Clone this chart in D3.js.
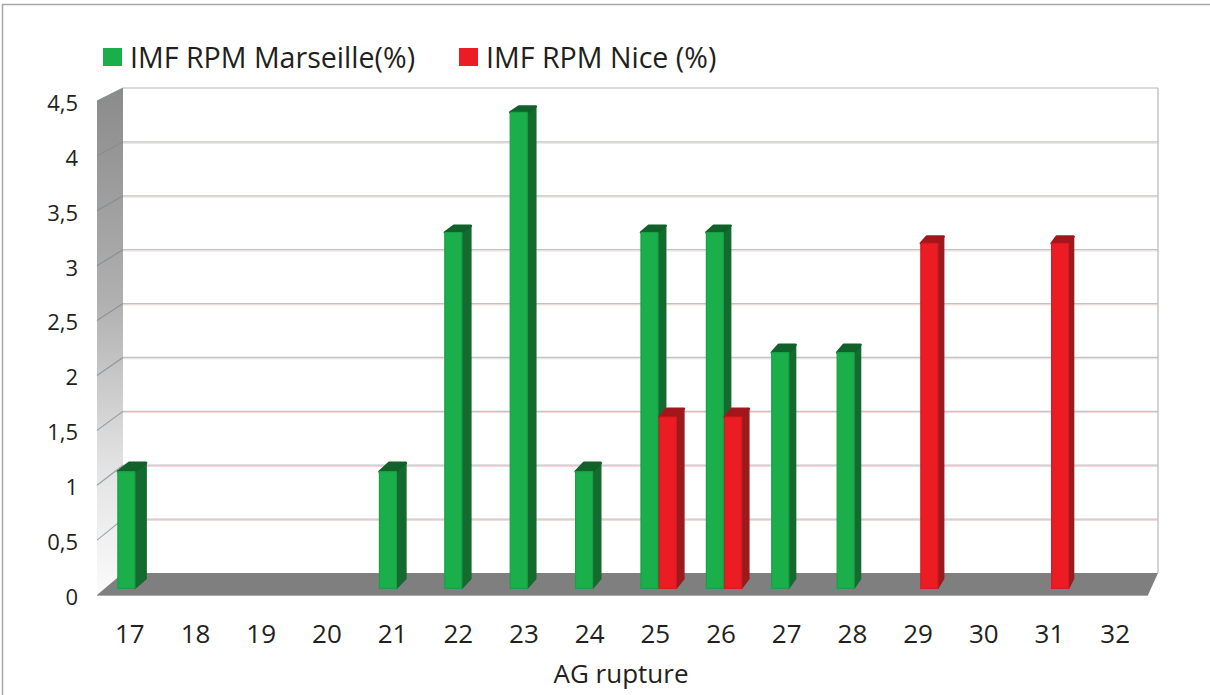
<!DOCTYPE html>
<html>
<head>
<meta charset="utf-8">
<script src="https://cdn.jsdelivr.net/npm/d3@7"></script>
<style>
  html, body { margin: 0; padding: 0; background: #ffffff; }
  svg { display: block; }
  text { font-family: "Open Sans", "Noto Sans", sans-serif; fill: #231f20; }
</style>
</head>
<body>
<svg id="chart" width="1210" height="695"></svg>
<script>
// ---- data ----
const categories = ["17","18","19","20","21","22","23","24","25","26","27","28","29","30","31","32"];
const marseille  = [1.07, 0, 0, 0, 1.07, 3.26, 4.36, 1.07, 3.26, 3.26, 2.16, 2.16, 0, 0, 0, 0];
const nice       = [0, 0, 0, 0, 0, 0, 0, 0, 1.57, 1.57, 0, 0, 3.16, 0, 3.16, 0];
const seriesNames = ["IMF RPM Marseille(%)", "IMF RPM Nice (%)"];
const yTicks = [0, 0.5, 1, 1.5, 2, 2.5, 3, 3.5, 4, 4.5];
const xTitle = "AG rupture";

// ---- styles ----
const seriesStyle = [
  { front: "#1aaf4b", side: "#156a30", top: "#11612b", u0: 0.20, u1: 0.46 },
  { front: "#ec1c24", side: "#9b1a1e", top: "#a3161b", u0: 0.48, u1: 0.74 }
];
const D0 = 0.30, D1 = 0.74;

const svg = d3.select("#chart");

// front plane & back plane scales (pseudo-perspective)
const xF = d3.scaleBand().domain(categories).range([97, 1148]);
const xB = d3.scaleBand().domain(categories).range([123, 1158]);
const yF = d3.scaleLinear().domain([0, 4.5]).range([595, 101]);
const yB = d3.scaleLinear().domain([0, 4.5]).range([573, 88]);

function proj(cat, u, v, d) {
  const xf = xF(cat) + u * xF.bandwidth();
  const xb = xB(cat) + u * xB.bandwidth();
  return [(1 - d) * xf + d * xb, (1 - d) * yF(v) + d * yB(v)];
}
const line = pts => "M" + pts.map(p => p[0].toFixed(2) + "," + p[1].toFixed(2)).join("L") + "Z";

// ---- outer frame ----
svg.append("line").attr("x1", 2).attr("x2", 1210).attr("y1", 4.5).attr("y2", 4.5)
  .attr("stroke", "#a6a6a6").attr("stroke-width", 1.5);
svg.append("line").attr("x1", 2.5).attr("x2", 2.5).attr("y1", 4.5).attr("y2", 695)
  .attr("stroke", "#a6a6a6").attr("stroke-width", 1.5);

// ---- defs ----
const defs = svg.append("defs");
const sg = defs.append("linearGradient").attr("id", "sideWall")
  .attr("x1", 0).attr("y1", 0).attr("x2", 0).attr("y2", 1);
sg.append("stop").attr("offset", "0%").attr("stop-color", "#8b8b8b");
sg.append("stop").attr("offset", "42%").attr("stop-color", "#b0b0b0");
sg.append("stop").attr("offset", "74%").attr("stop-color", "#e2e2e2");
sg.append("stop").attr("offset", "100%").attr("stop-color", "#fbfbfb");

const x0F = xF.range()[0], x1F = xF.range()[1];
const x0B = xB.range()[0], x1B = xB.range()[1];
const vMax = yTicks[yTicks.length - 1];

// ---- side wall ----
svg.append("path")
  .attr("d", line([[x0F, yF(0)], [x0F, yF(vMax)], [x0B, yB(vMax)], [x0B, yB(0)]]))
  .attr("fill", "url(#sideWall)");

// ---- back wall ----
svg.append("path")
  .attr("d", line([[x0B, yB(0)], [x0B, yB(vMax)], [x1B, yB(vMax)], [x1B, yB(0)]]))
  .attr("fill", "#ffffff");

// gridlines on back wall and side wall
const grid = svg.append("g");
yTicks.filter(v => v > 0).forEach(v => {
  if (v < vMax) {
    grid.append("line").attr("x1", x0B).attr("x2", x1B)
      .attr("y1", yB(v) + 1.3).attr("y2", yB(v) + 1.3)
      .attr("stroke", "#f4d8cf").attr("stroke-width", 1);
  }
  grid.append("line").attr("x1", x0B).attr("x2", x1B)
    .attr("y1", yB(v)).attr("y2", yB(v))
    .attr("stroke", v < vMax ? "#bcc5ca" : "#cfcfcf").attr("stroke-width", 1.3);
  grid.append("line").attr("x1", x0F).attr("y1", yF(v)).attr("x2", x0B).attr("y2", yB(v))
    .attr("stroke", "#7c8890").attr("stroke-width", 1.1).attr("opacity", 0.75);
});
// right edge of back wall
svg.append("line").attr("x1", x1B).attr("x2", x1B).attr("y1", yB(vMax)).attr("y2", yB(0))
  .attr("stroke", "#c6c6c6").attr("stroke-width", 1.5);

// ---- floor ----
svg.append("path")
  .attr("d", line([[x0F, yF(0)], [x0B, yB(0)], [x1B, yB(0)], [x1F, yF(0)]]))
  .attr("fill", "#7f7f7f");
svg.append("line").attr("x1", x0F).attr("x2", x1F).attr("y1", yF(0) + 0.5).attr("y2", yF(0) + 0.5)
  .attr("stroke", "#a9a9a9").attr("stroke-width", 1);

// ---- bars ----
const barsG = svg.append("g");
const seriesData = [marseille, nice];
categories.forEach((cat, i) => {
  seriesData.forEach((vals, s) => {
    const v = vals[i];
    if (!v) return;
    const st = seriesStyle[s];
    const g = barsG.append("g");
    // side
    g.append("path").attr("d", line([
      proj(cat, st.u1, 0, D0), proj(cat, st.u1, v, D0), proj(cat, st.u1, v, D1), proj(cat, st.u1, 0, D1)
    ])).attr("fill", st.side).attr("stroke", st.side).attr("stroke-width", 1.5).attr("stroke-linejoin", "round");
    // top
    g.append("path").attr("d", line([
      proj(cat, st.u0, v, D0), proj(cat, st.u1, v, D0), proj(cat, st.u1, v, D1), proj(cat, st.u0, v, D1)
    ])).attr("fill", st.top).attr("stroke", st.top).attr("stroke-width", 2.5).attr("stroke-linejoin", "round");
    // front
    g.append("path").attr("d", line([
      proj(cat, st.u0, 0, D0), proj(cat, st.u0, v, D0), proj(cat, st.u1, v, D0), proj(cat, st.u1, 0, D0)
    ])).attr("fill", st.front).attr("stroke", d3.color(st.front).darker(0.25)).attr("stroke-width", 1.2)
      .attr("stroke-linejoin", "round");
  });
});

// ---- y axis labels ----
const fmt = v => String(v).replace(".", ",");
svg.append("g").selectAll("text").data(yTicks).join("text")
  .attr("x", 78).attr("y", v => yF(v) + 4)
  .attr("text-anchor", "end").attr("dominant-baseline", "middle")
  .attr("font-size", 22).text(fmt);

// ---- x axis labels ----
svg.append("g").selectAll("text").data(categories).join("text")
  .attr("x", c => xF(c) + xF.bandwidth() / 2).attr("y", 636)
  .attr("text-anchor", "middle").attr("dominant-baseline", "middle")
  .attr("font-size", 26).text(c => c);

svg.append("text").attr("x", 621).attr("y", 676)
  .attr("text-anchor", "middle").attr("dominant-baseline", "middle")
  .attr("font-size", 26).text(xTitle);

// ---- legend ----
const legendX = [103, 459];
const leg = svg.append("g");
seriesNames.forEach((name, s) => {
  leg.append("rect").attr("x", legendX[s]).attr("y", 48).attr("width", 19).attr("height", 18)
    .attr("fill", seriesStyle[s].front);
  leg.append("text").attr("x", legendX[s] + 27).attr("y", 60)
    .attr("dominant-baseline", "middle").attr("font-size", 28.6).text(name);
});
</script>
</body>
</html>
